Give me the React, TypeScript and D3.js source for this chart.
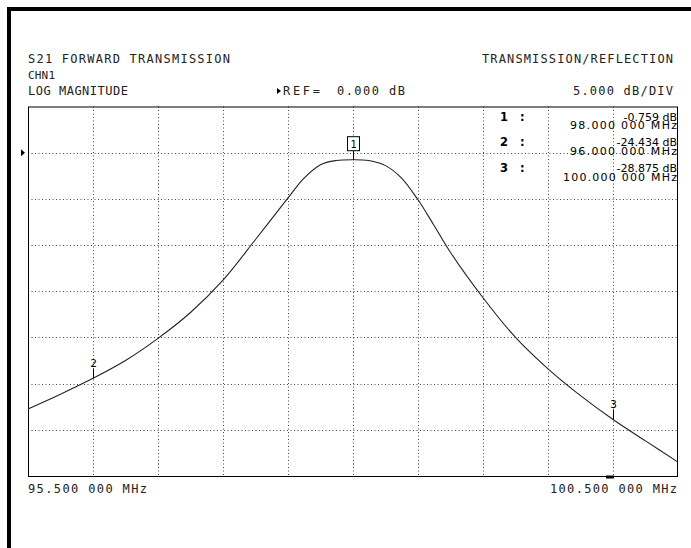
import React from "react";
import * as d3 from "d3";

// Trace data (frequency in MHz, magnitude in dB)
const freqs = [95.5, 95.75, 96.0, 96.25, 96.5, 96.75, 97.0, 97.25, 97.5, 97.62, 97.75, 97.87, 98.0, 98.12, 98.25, 98.37, 98.5, 98.62, 98.75, 99.0, 99.25, 99.5, 99.75, 100.0, 100.25, 100.5];
const mags = [-27.75, -26.15, -24.43, -22.5, -20.1, -17.3, -13.8, -9.4, -4.9, -2.8, -1.3, -0.85, -0.76, -0.85, -1.4, -2.7, -5.1, -7.8, -10.8, -15.7, -20.0, -23.4, -26.3, -28.88, -31.2, -33.5];

// Markers
const markerIds = [1, 2, 3];
const markerFreqs = [98.0, 96.0, 100.0];
const markerValues = [-0.759, -24.434, -28.875];
const markerFreqLabels = ["98.000 000 MHz", "96.000 000 MHz", "100.000 000 MHz"];

// Axis settings
const startLabel = "95.500 000 MHz";
const stopLabel = "100.500 000 MHz";
const freqDomain = [95.5, 100.5];
const dbDomain = [5, -35];
const refLevel = 0;

const W = 691;
const H = 548;
const L = 28, R = 678, T = 106.5, B = 476;

const mono = "'DejaVu Sans Mono', 'Liberation Mono', monospace";
const sans = "'DejaVu Sans', Verdana, sans-serif";

export default function App() {
  const x = d3.scaleLinear().domain(freqDomain).range([L, R]);
  const y = d3.scaleLinear().domain(dbDomain).range([T, B]);
  const xTicks = x.ticks(10).filter((t) => t > freqDomain[0] && t < freqDomain[1]);
  const yTicks = y.ticks(8).filter((t) => t < dbDomain[0] && t > dbDomain[1]);

  const pts: [number, number][] = freqs.map((f, i) => [f, mags[i]]);
  const line = d3
    .line<[number, number]>()
    .x((d) => x(d[0]))
    .y((d) => y(d[1]))
    .curve(d3.curveCatmullRom.alpha(0.5));

  const txt = "#222";
  const refY = y(refLevel);
  const valueRows = [121, 146, 172];
  const freqRows = [129, 155, 181];
  const freqWidths = [107, 107, 114];

  return (
    <svg
      width={W}
      height={H}
      style={{ position: "absolute", left: 0, top: 0, background: "#fff" }}
    >
      <rect x={0} y={0} width={W} height={H} fill="#fff" />
      {/* frame */}
      <rect x={7} y={7} width={W - 7} height={4} fill="#000" />
      <rect x={7} y={7} width={4} height={H - 7} fill="#000" />

      {/* header texts */}
      <g fontFamily={mono} fontSize={12} fill={txt}>
        <text x={28} y={63} textLength={202} lengthAdjust="spacing">S21 FORWARD TRANSMISSION</text>
        <text x={28} y={79} fontSize={11} textLength={27} lengthAdjust="spacing">CHN1</text>
        <text x={28} y={95} textLength={100} lengthAdjust="spacing">LOG MAGNITUDE</text>
        <text x={482} y={63} textLength={191} lengthAdjust="spacing">TRANSMISSION/REFLECTION</text>
        <path d="M277,88 L281,91 L277,94 Z" fill="#000" />
        <text x={283} y={95} textLength={37} lengthAdjust="spacing">REF=</text>
        <text x={337} y={95} textLength={68} lengthAdjust="spacing">{refLevel.toFixed(3)} dB</text>
        <text x={573} y={95} textLength={100} lengthAdjust="spacing">5.000 dB/DIV</text>
        <text x={28} y={493} textLength={119} lengthAdjust="spacing">{startLabel}</text>
        <text x={550} y={493} textLength={127} lengthAdjust="spacing">{stopLabel}</text>
      </g>

      {/* grid */}
      <g stroke="#444" strokeWidth={1} strokeDasharray="1,2.5">
        {xTicks.map((t) => (
          <line key={"gx" + t} x1={Math.round(x(t)) + 0.5} x2={Math.round(x(t)) + 0.5} y1={T} y2={B} />
        ))}
        {yTicks.map((t) => (
          <line key={"gy" + t} x1={L} x2={R} y1={Math.round(y(t)) + 0.5} y2={Math.round(y(t)) + 0.5} />
        ))}
      </g>
      <rect x={L + 0.5} y={T + 0.5} width={R - L - 1} height={B - T} fill="none" stroke="#000" strokeWidth={1} />

      {/* reference arrow */}
      <path d={`M21,${refY - 3.5} L25,${refY} L21,${refY + 3.5} Z`} fill="#000" />

      {/* trace */}
      <path d={line(pts) || ""} fill="none" stroke="#222" strokeWidth={1.1} />

      {/* active marker indicator on x axis */}
      <rect x={x(markerFreqs[2]) - 7} y={B - 0.5} width={8} height={3} fill="#000" />

      {/* markers */}
      {markerIds.map((id, i) => {
        const mx = Math.round(x(markerFreqs[i])) + 0.5;
        const my = y(markerValues[i]);
        if (id === 1) {
          return (
            <g key={"m" + id}>
              <line x1={mx} x2={mx} y1={my - 9} y2={my} stroke="#000" />
              <rect x={mx - 6} y={my - 23} width={12} height={14} fill="#fff" stroke="#000" />
              <text x={mx} y={my - 12} textAnchor="middle" fontFamily={mono} fontSize={10} fill="#000">{id}</text>
            </g>
          );
        }
        return (
          <g key={"m" + id}>
            <line x1={mx} x2={mx} y1={my - 10} y2={my} stroke="#000" />
            <text x={mx} y={my - 11} textAnchor="middle" fontFamily={mono} fontSize={11} fill="#000">{id}</text>
          </g>
        );
      })}

      {/* marker readout table */}
      {markerIds.map((id, i) => {
        const by = valueRows[i];
        const fy = freqRows[i];
        return (
          <g key={"t" + id} fill="#000">
            <text x={500} y={by} fontFamily={sans} fontWeight="bold" fontSize={11.5}>{id}</text>
            <text x={520} y={by} fontFamily={sans} fontWeight="bold" fontSize={11.5}>:</text>
            <text x={677} y={by} textAnchor="end" fontFamily={sans} fontSize={11}>
              {markerValues[i].toFixed(3)} dB
            </text>
            <text
              x={677 - freqWidths[i]}
              y={fy}
              fontFamily={sans}
              fontSize={11}
              textLength={freqWidths[i]}
              lengthAdjust="spacing"
            >
              {markerFreqLabels[i]}
            </text>
          </g>
        );
      })}
    </svg>
  );
}
